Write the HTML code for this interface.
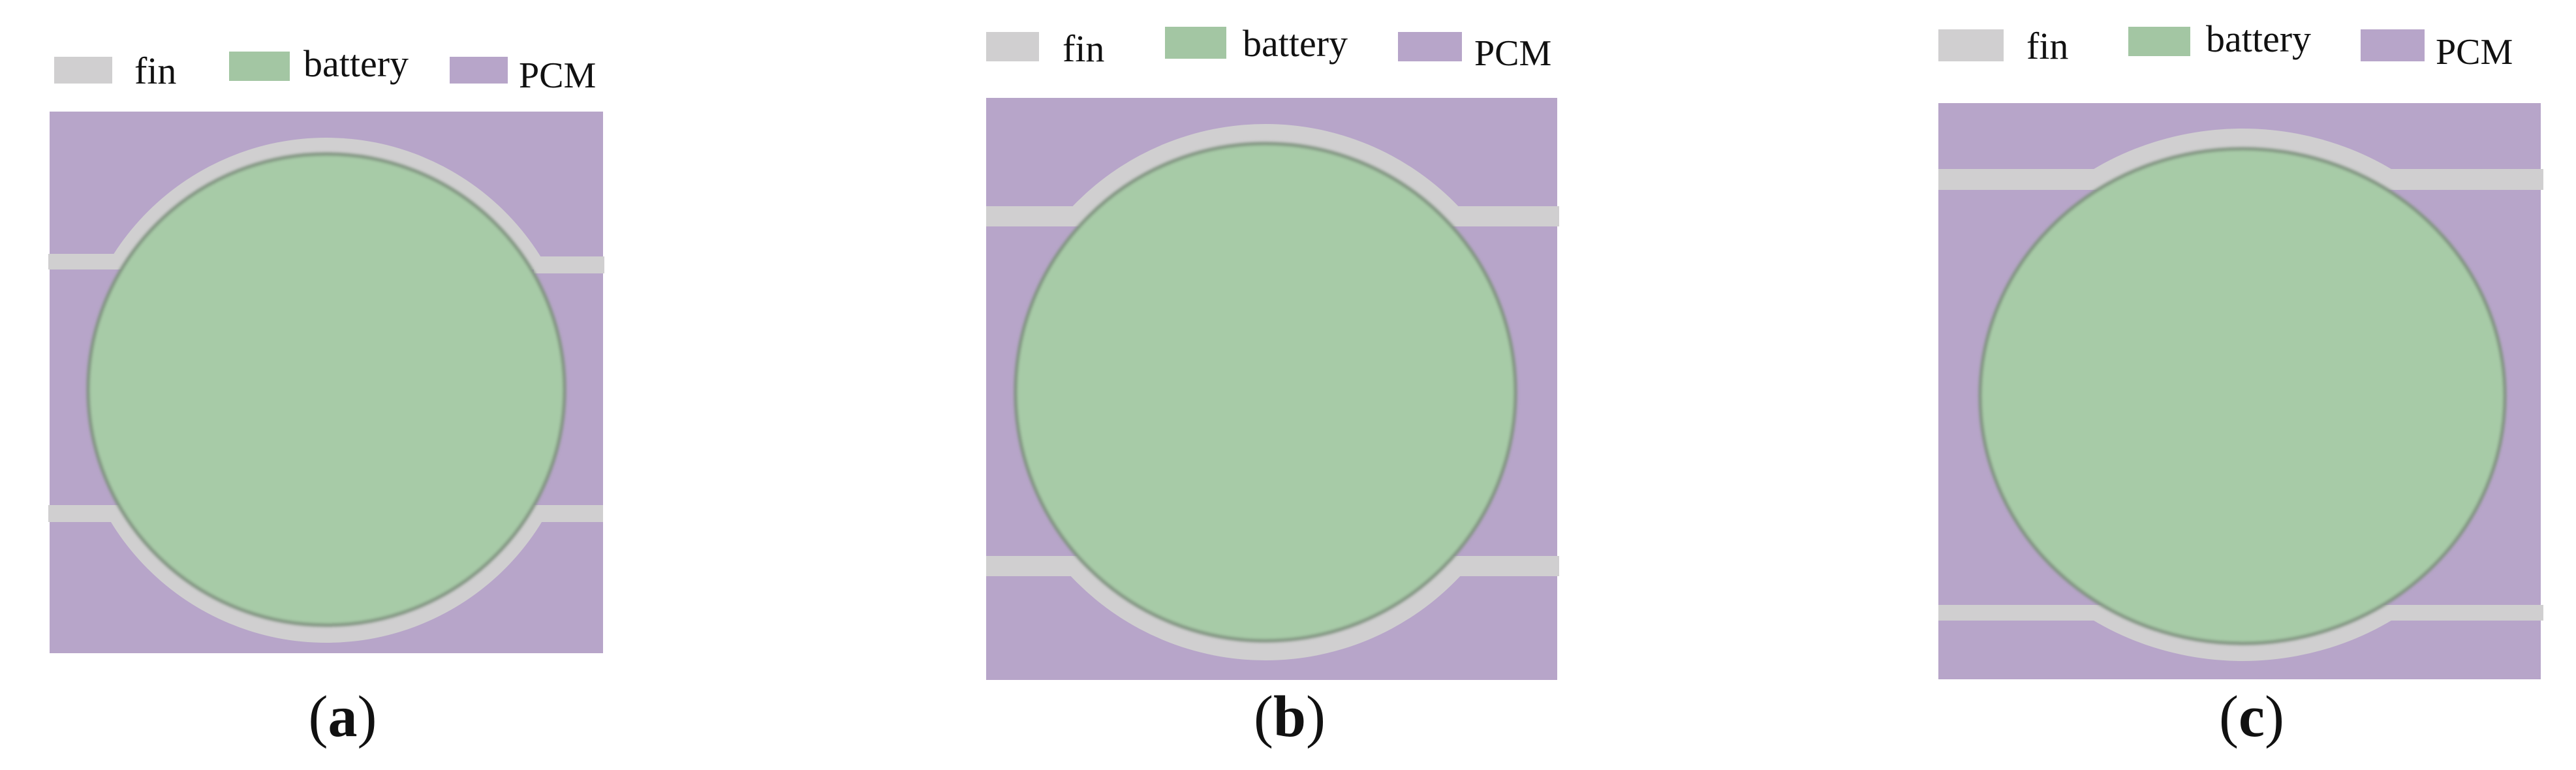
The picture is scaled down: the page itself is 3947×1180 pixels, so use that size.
<!DOCTYPE html>
<html><head><meta charset="utf-8"><style>
html,body{margin:0;padding:0;background:#fff;}
svg{display:block;}
text{font-family:"Liberation Serif",serif;fill:#111;}
</style></head><body>
<svg width="3947" height="1180" viewBox="0 0 3947 1180" xmlns="http://www.w3.org/2000/svg">
<defs>
<filter id="bl" x="-5%" y="-5%" width="110%" height="110%"><feGaussianBlur stdDeviation="2"/></filter>
</defs>
<!-- Panel a -->
<rect x="83" y="87" width="89" height="41" fill="#d0cfd0"/>
<text x="206" y="128" font-size="58">fin</text>
<rect x="351" y="79" width="93" height="45" fill="#a3c6a3"/>
<text x="465" y="117" font-size="58">battery</text>
<rect x="689" y="87" width="89" height="41" fill="#b7a5c9"/>
<text x="795" y="134" font-size="56">PCM</text>
<rect x="76" y="171" width="848" height="830" fill="#b7a5c9"/>
<ellipse cx="500" cy="598" rx="387" ry="387" fill="#d0cfd0"/>
<rect x="76" y="413" width="848" height="361" fill="#b7a5c9"/>
<rect x="74" y="389" width="104" height="24" fill="#d0cfd0"/>
<rect x="818" y="393" width="108" height="26" fill="#d0cfd0"/>
<rect x="74" y="774" width="104" height="26" fill="#d0cfd0"/>
<rect x="815" y="774" width="109" height="26" fill="#d0cfd0"/>
<ellipse cx="500" cy="597" rx="365" ry="361" fill="#a7cba7" stroke="#7f927f" stroke-width="5" filter="url(#bl)"/>
<text x="525" y="1128" font-size="90" text-anchor="middle">(<tspan font-weight="bold">a</tspan>)</text>

<!-- Panel b -->
<rect x="1511" y="49" width="81" height="45" fill="#d0cfd0"/>
<text x="1628" y="94" font-size="58">fin</text>
<rect x="1785" y="41" width="94" height="49" fill="#a3c6a3"/>
<text x="1904" y="86" font-size="58">battery</text>
<rect x="2142" y="49" width="98" height="45" fill="#b7a5c9"/>
<text x="2259" y="100" font-size="56">PCM</text>
<rect x="1511" y="150" width="875" height="892" fill="#b7a5c9"/>
<ellipse cx="1939" cy="601" rx="410" ry="411" fill="#d0cfd0"/>
<rect x="1511" y="347" width="875" height="505" fill="#b7a5c9"/>
<rect x="1511" y="316" width="137" height="31" fill="#d0cfd0"/>
<rect x="2226" y="316" width="163" height="31" fill="#d0cfd0"/>
<rect x="1511" y="852" width="137" height="31" fill="#d0cfd0"/>
<rect x="2226" y="852" width="163" height="31" fill="#d0cfd0"/>
<ellipse cx="1939" cy="601" rx="383" ry="381" fill="#a7cba7" stroke="#7f927f" stroke-width="5" filter="url(#bl)"/>
<text x="1976" y="1128" font-size="90" text-anchor="middle">(<tspan font-weight="bold">b</tspan>)</text>

<!-- Panel c -->
<rect x="2970" y="45" width="100" height="49" fill="#d0cfd0"/>
<text x="3105" y="90" font-size="58">fin</text>
<rect x="3261" y="41" width="95" height="45" fill="#a3c6a3"/>
<text x="3380" y="79" font-size="58">battery</text>
<rect x="3617" y="45" width="98" height="49" fill="#b7a5c9"/>
<text x="3732" y="98" font-size="56">PCM</text>
<rect x="2970" y="158" width="923" height="883" fill="#b7a5c9"/>
<ellipse cx="3436" cy="605" rx="430" ry="408" fill="#d0cfd0"/>
<rect x="2970" y="291" width="923" height="636" fill="#b7a5c9"/>
<rect x="2970" y="259" width="242" height="32" fill="#d0cfd0"/>
<rect x="3655" y="259" width="242" height="32" fill="#d0cfd0"/>
<rect x="2970" y="927" width="242" height="24" fill="#d0cfd0"/>
<rect x="3655" y="927" width="242" height="24" fill="#d0cfd0"/>
<ellipse cx="3436" cy="607" rx="402" ry="379" fill="#a7cba7" stroke="#7f927f" stroke-width="5" filter="url(#bl)"/>
<text x="3450" y="1128" font-size="90" text-anchor="middle">(<tspan font-weight="bold">c</tspan>)</text>
</svg>
</body></html>
